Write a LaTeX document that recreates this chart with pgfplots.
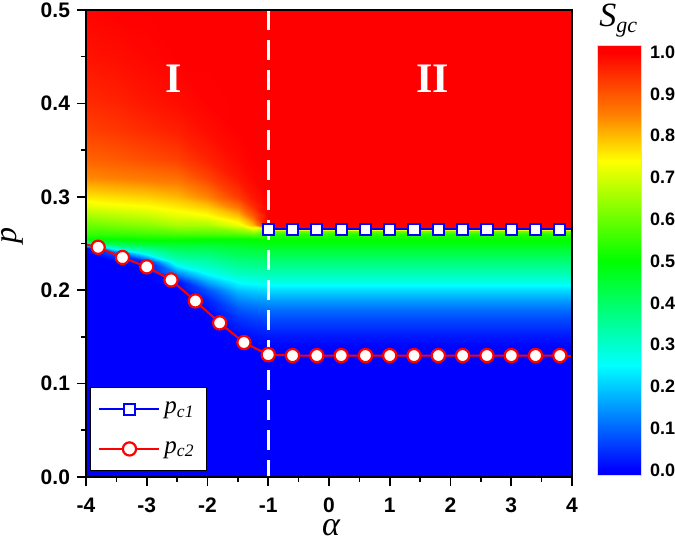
\documentclass[border=0pt]{standalone}
\usepackage{pgfplots}
\pgfplotsset{compat=1.18}
\usepackage{fontspec}
\setmainfont{Liberation Serif}
\newfontfamily\arialf{Liberation Sans}
\pgfplotsset{colormap={sgc}{rgb255(0)=(0,0,255) rgb255(12)=(0,0,255) rgb255(262)=(0,255,255) rgb255(512)=(0,255,0) rgb255(752)=(255,255,0) rgb255(862)=(255,128,0) rgb255(1012)=(255,0,0) rgb255(1029)=(255,0,0)}}
\begin{document}
\begin{tikzpicture}
\begin{axis}[
  at={(0,0)}, anchor=south west,
  scale only axis, width=243pt, height=233.5pt,
  xmin=-4, xmax=4, ymin=0, ymax=0.5,
  axis on top,
  xtick={-4,-3,-2,-1,0,1,2,3,4}, minor x tick num=1,
  ytick={0,0.1,0.2,0.3,0.4,0.5}, minor y tick num=1,
  tick align=outside, tick pos=left,
  major tick length=4.5pt, minor tick length=2.5pt,
  tick style={black, line width=0.8pt},
  axis line style={line width=0.8pt},
  ticklabel style={font=\fontsize{10.5}{12}\selectfont\arialf\bfseries},
  xticklabel style={yshift=-2.5pt},
  /pgf/number format/assume math mode=true,
  yticklabel style={/pgf/number format/.cd, fixed, fixed zerofill, precision=1},
  colormap name=sgc,
  point meta min=-0.012, point meta max=1.017,
  legend style={at={(0.008,0.013)}, anchor=south west, draw=black, line width=0.6pt, fill=white,
    font=\fontsize{12.5}{13}\selectfont\itshape, inner xsep=4pt, inner ysep=5pt, row sep=8.5pt, cells={anchor=west}},
  legend image code/.code={\draw[mark repeat=2, mark phase=2, #1] plot coordinates {(0pt,0pt) (15pt,0pt) (30pt,0pt)};},
]
% left region of the map (alpha from -4 to -1)
\addplot[surf, shader=interp, point meta=explicit, forget plot] table[x=a, y=p, meta=s] {
a p s
-4 0 0
-4 0.12 0
-4 0.13 0
-4 0.14 0
-4 0.15 0
-4 0.16 0
-4 0.17 0
-4 0.18 0
-4 0.19 0
-4 0.2 0
-4 0.21 0
-4 0.22 0
-4 0.23 0
-4 0.24 0
-4 0.245 0
-4 0.25 0.3
-4 0.255 0.5
-4 0.26 0.55
-4 0.27 0.6
-4 0.28 0.66
-4 0.29 0.715
-4 0.3 0.76
-4 0.32 0.84
-4 0.34 0.885
-4 0.37 0.925
-4 0.4 0.95
-4 0.45 0.978
-4 0.5 0.995

-3.5 0 0
-3.5 0.12 0
-3.5 0.13 0
-3.5 0.14 0
-3.5 0.15 0
-3.5 0.16 0
-3.5 0.17 0
-3.5 0.18 0
-3.5 0.19 0
-3.5 0.2 0
-3.5 0.21 0
-3.5 0.22 0
-3.5 0.23 0
-3.5 0.24 0.08
-3.5 0.245 0.3
-3.5 0.25 0.42
-3.5 0.255 0.5
-3.5 0.26 0.55
-3.5 0.27 0.615
-3.5 0.28 0.675
-3.5 0.29 0.73
-3.5 0.3 0.77
-3.5 0.32 0.85
-3.5 0.34 0.895
-3.5 0.37 0.935
-3.5 0.4 0.96
-3.5 0.45 0.985
-3.5 0.5 1

-3 0 0
-3 0.12 0
-3 0.13 0
-3 0.14 0
-3 0.15 0
-3 0.16 0
-3 0.17 0
-3 0.18 0
-3 0.19 0
-3 0.2 0
-3 0.21 0
-3 0.22 0
-3 0.23 0.03
-3 0.24 0.29
-3 0.245 0.37
-3 0.25 0.45
-3 0.255 0.51
-3 0.26 0.56
-3 0.27 0.63
-3 0.28 0.69
-3 0.29 0.74
-3 0.3 0.78
-3 0.32 0.86
-3 0.34 0.91
-3 0.37 0.95
-3 0.4 0.975
-3 0.45 0.993
-3 0.5 1

-2.5 0 0
-2.5 0.12 0
-2.5 0.13 0
-2.5 0.14 0
-2.5 0.15 0
-2.5 0.16 0
-2.5 0.17 0
-2.5 0.18 0
-2.5 0.19 0
-2.5 0.2 0
-2.5 0.21 0.02
-2.5 0.22 0.15
-2.5 0.23 0.3
-2.5 0.24 0.38
-2.5 0.245 0.42
-2.5 0.25 0.46
-2.5 0.255 0.51
-2.5 0.26 0.57
-2.5 0.27 0.66
-2.5 0.28 0.72
-2.5 0.29 0.76
-2.5 0.3 0.8
-2.5 0.32 0.87
-2.5 0.34 0.925
-2.5 0.37 0.965
-2.5 0.4 0.985
-2.5 0.45 1
-2.5 0.5 1

-2 0 0
-2 0.12 0
-2 0.13 0
-2 0.14 0
-2 0.15 0
-2 0.16 0
-2 0.17 0
-2 0.18 0.01
-2 0.19 0.03
-2 0.2 0.08
-2 0.21 0.17
-2 0.22 0.27
-2 0.23 0.33
-2 0.24 0.39
-2 0.245 0.42
-2 0.25 0.46
-2 0.255 0.5
-2 0.26 0.57
-2 0.27 0.66
-2 0.28 0.74
-2 0.29 0.79
-2 0.3 0.845
-2 0.32 0.92
-2 0.34 0.96
-2 0.37 0.985
-2 0.4 0.998
-2 0.45 1
-2 0.5 1

-1.5 0 0
-1.5 0.12 0
-1.5 0.13 0
-1.5 0.14 0
-1.5 0.15 0.005
-1.5 0.16 0.025
-1.5 0.17 0.05
-1.5 0.18 0.085
-1.5 0.19 0.13
-1.5 0.2 0.19
-1.5 0.21 0.26
-1.5 0.22 0.32
-1.5 0.23 0.37
-1.5 0.24 0.42
-1.5 0.245 0.44
-1.5 0.25 0.47
-1.5 0.255 0.5
-1.5 0.26 0.58
-1.5 0.27 0.72
-1.5 0.28 0.8
-1.5 0.29 0.87
-1.5 0.3 0.93
-1.5 0.32 0.975
-1.5 0.34 0.99
-1.5 0.37 1
-1.5 0.4 1
-1.5 0.45 1
-1.5 0.5 1

-1.25 0 0
-1.25 0.12 0
-1.25 0.13 0
-1.25 0.14 0.003
-1.25 0.15 0.015
-1.25 0.16 0.035
-1.25 0.17 0.065
-1.25 0.18 0.1
-1.25 0.19 0.145
-1.25 0.2 0.205
-1.25 0.21 0.27
-1.25 0.22 0.325
-1.25 0.23 0.375
-1.25 0.24 0.425
-1.25 0.245 0.45
-1.25 0.25 0.475
-1.25 0.255 0.5
-1.25 0.26 0.6
-1.25 0.27 0.8
-1.25 0.28 0.9
-1.25 0.29 0.95
-1.25 0.3 0.975
-1.25 0.32 0.995
-1.25 0.34 1
-1.25 0.37 1
-1.25 0.4 1
-1.25 0.45 1
-1.25 0.5 1

-1 0 0
-1 0.12 0
-1 0.13 0
-1 0.14 0.005
-1 0.15 0.02
-1 0.16 0.045
-1 0.17 0.075
-1 0.18 0.11
-1 0.19 0.155
-1 0.2 0.215
-1 0.21 0.28
-1 0.22 0.33
-1 0.23 0.38
-1 0.24 0.43
-1 0.245 0.455
-1 0.25 0.48
-1 0.255 0.505
-1 0.26 0.54
-1 0.27 1
-1 0.28 1
-1 0.29 1
-1 0.3 1
-1 0.32 1
-1 0.34 1
-1 0.37 1
-1 0.4 1
-1 0.45 1
-1 0.5 1
};
% right region of the map (alpha from -1 to 4)
\addplot[surf, shader=interp, point meta=explicit, forget plot] table[x=a, y=p, meta=s] {
a p s
-1 0 0
-1 0.13 0
-1 0.14 0.005
-1 0.15 0.02
-1 0.16 0.045
-1 0.17 0.075
-1 0.18 0.11
-1 0.19 0.155
-1 0.2 0.215
-1 0.21 0.28
-1 0.22 0.33
-1 0.23 0.38
-1 0.24 0.43
-1 0.245 0.455
-1 0.25 0.48
-1 0.255 0.505
-1 0.26 0.54
-1 0.263 0.6
-1 0.2645 0.72
-1 0.2652 1
-1 0.5 1

4 0 0
4 0.13 0
4 0.14 0.005
4 0.15 0.02
4 0.16 0.045
4 0.17 0.075
4 0.18 0.11
4 0.19 0.155
4 0.2 0.215
4 0.21 0.28
4 0.22 0.33
4 0.23 0.38
4 0.24 0.43
4 0.245 0.455
4 0.25 0.48
4 0.255 0.505
4 0.26 0.54
4 0.263 0.6
4 0.2645 0.72
4 0.2652 1
4 0.5 1
};
% dashed boundary
\addplot[white, line width=1.5pt, dash pattern=on 10pt off 5pt, forget plot] coordinates {(-1,0.5) (-1,0)};
% line extensions to the frame
\addplot[red, line width=1pt, forget plot] coordinates {(-4,0.249) (-3.8,0.246)};
\addplot[red, line width=1pt, forget plot] coordinates {(3.8,0.13) (4,0.13)};
\addplot[blue, line width=1pt, forget plot] coordinates {(3.8,0.265) (4,0.265)};
% p_c1
\addplot[blue, line width=1pt, mark=square*, mark size=2.8pt, mark options={fill=white, line width=1pt, solid}] coordinates {
(-1,0.265) (-0.6,0.265) (-0.2,0.265) (0.2,0.265) (0.6,0.265) (1.0,0.265) (1.4,0.265) (1.8,0.265) (2.2,0.265) (2.6,0.265) (3.0,0.265) (3.4,0.265) (3.8,0.265)};
\addlegendentry{p\textsubscript{c1}}
% p_c2
\addplot[red, line width=1pt, mark=*, mark size=3.3pt, mark options={fill=white, line width=1.1pt, solid}] coordinates {
(-3.8,0.246) (-3.4,0.235) (-3.0,0.225) (-2.6,0.211) (-2.2,0.1885) (-1.8,0.165) (-1.4,0.144) (-1.0,0.131) (-0.6,0.13) (-0.2,0.13) (0.2,0.13) (0.6,0.13) (1.0,0.13) (1.4,0.13) (1.8,0.13) (2.2,0.13) (2.6,0.13) (3.0,0.13) (3.4,0.13) (3.8,0.13)};
\addlegendentry{p\textsubscript{c2}}
\node[text=white, font=\fontsize{21}{21}\selectfont\bfseries] at (axis cs:-2.55,0.426) {I};
\node[text=white, font=\fontsize{21}{21}\selectfont\bfseries] at (axis cs:1.71,0.426) {II};
\end{axis}
% colour scale
\begin{axis}[
  name=cb, at={(255.5pt,1pt)}, anchor=south west,
  scale only axis, width=22pt, height=215pt,
  xmin=0, xmax=1, ymin=-0.012, ymax=1.017,
  xtick=\empty,
  ytick={0,0.1,0.2,0.3,0.4,0.5,0.6,0.7,0.8,0.9,1},
  yticklabel pos=right,
  major tick length=0pt,
  axis on top,
  /pgf/number format/assume math mode=true,
  yticklabel style={font=\fontsize{9}{10}\selectfont\arialf\bfseries, xshift=1pt, /pgf/number format/.cd, fixed, fixed zerofill, precision=1},
  axis line style={draw=red!20, line width=0.4pt},
  colormap name=sgc,
  point meta min=-0.012, point meta max=1.017,
]
\addplot[surf, shader=interp, point meta=y] table {
x y
0 -0.012
1 -0.012

0 1.017
1 1.017
};
\end{axis}
\node[rotate=90, anchor=base, inner sep=0pt, text height=1ex, text depth=0.5ex, font=\fontsize{16}{16}\selectfont\itshape] at (-34.5pt,120.5pt) {p};
\node[anchor=base, inner sep=0pt, text height=1ex, text depth=0pt, font=\fontsize{17}{17}\selectfont\itshape] at (122.5pt,-29.5pt) {α};
\node[anchor=base west, inner sep=0pt, font=\fontsize{17}{17}\selectfont\itshape] at ([xshift=1pt,yshift=9pt]cb.north west) {S\raisebox{-3pt}{\fontsize{11}{11}\selectfont gc}};
\pgfresetboundingbox
\path[use as bounding box] (-43pt,-31.5pt) rectangle (294.5pt,238.5pt);
\end{tikzpicture}
\end{document}
